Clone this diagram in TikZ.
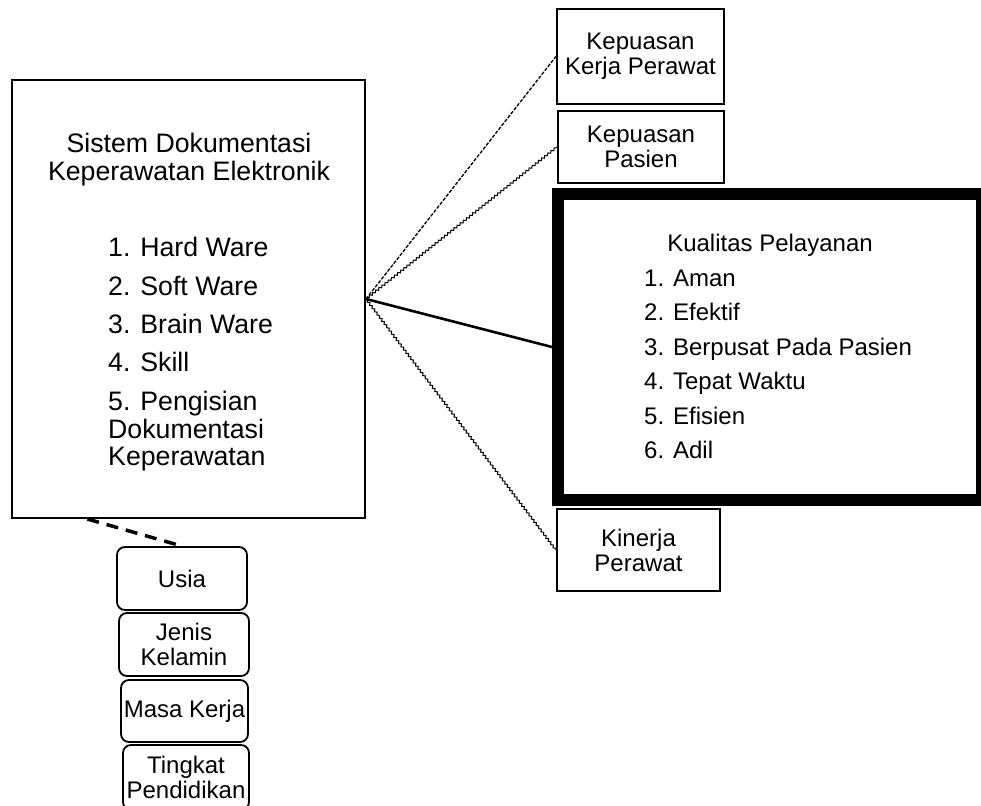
\documentclass[tikz,border=0pt]{standalone}
\usepackage{fontspec}
\setmainfont{Liberation Sans}
\usetikzlibrary{calc,decorations.pathmorphing}

\begin{document}
\begin{tikzpicture}[x=1pt,y=-1pt,
  box/.style={draw, line width=2pt, inner sep=0pt, align=center, font=\fontsize{24}{25}\selectfont},
  rbox/.style={box, rounded corners=8pt, line width=1.8pt},
  txt/.style={inner sep=0pt, font=\fontsize{24}{25}\selectfont},
  bigtxt/.style={inner sep=0pt, font=\fontsize{26.7}{28}\selectfont},
  wavy/.style={line width=1pt, decorate, decoration={snake, amplitude=1pt, segment length=4pt}},
  dotline/.style={line width=1.3pt, dash pattern=on 3.5pt off 1.5pt},
  solidline/.style={line width=2.6pt},
  thickdash/.style={line width=3.5pt, dash pattern=on 12pt off 8pt}
]
\useasboundingbox (0,0) rectangle (981,805);
\clip (0,0) rectangle (981,805);

% main box
\node[box, minimum width=353pt, minimum height=438pt] (sdke) at (188.5,299) {};
\node[bigtxt, anchor=base] (t1) at (189,152.7) {Sistem Dokumentasi};
\node[bigtxt, anchor=base] (t2) at (189,180.5) {Keperawatan Elektronik};
\node[bigtxt, anchor=base west] (i1) at (108,256.7) {1. Hard Ware};
\node[bigtxt, anchor=base west] (i2) at (108,295) {2. Soft Ware};
\node[bigtxt, anchor=base west] (i3) at (108,333.3) {3. Brain Ware};
\node[bigtxt, anchor=base west] (i4) at (108,371) {4. Skill};
\node[bigtxt, anchor=base west] (i5) at (108,410) {5. Pengisian};
\node[bigtxt, anchor=base west] (i5b) at (108,438) {Dokumentasi};
\node[bigtxt, anchor=base west] (i5c) at (108,465) {Keperawatan};

% quality box
\node[draw, line width=12pt, inner sep=0pt, minimum width=424pt, minimum height=306pt] (kual) at (770,347) {};
\node[txt, anchor=base] (kt) at (770,251.5) {Kualitas Pelayanan};
\node[txt, anchor=base west] (k1) at (644,286.7) {1. Aman};
\node[txt, anchor=base west] (k2) at (644,320.5) {2. Efektif};
\node[txt, anchor=base west] (k3) at (644,355) {3. Berpusat Pada Pasien};
\node[txt, anchor=base west] (k4) at (644,389.5) {4. Tepat Waktu};
\node[txt, anchor=base west] (k5) at (644,424) {5. Efisien};
\node[txt, anchor=base west] (k6) at (644,458.3) {6. Adil};

% right boxes
\node[box, line width=2.2pt, minimum width=167pt, minimum height=95pt] (kkp) at (640.5,56.5) {Kepuasan\\Kerja Perawat};
\node[box, line width=2.2pt, minimum width=166pt, minimum height=72pt] (kp) at (641,147) {Kepuasan\\Pasien};
\node[box, line width=2.2pt, minimum width=163pt, minimum height=82pt] (kin) at (638.5,550) {Kinerja\\Perawat};

% bottom boxes
\node[rbox, minimum width=130pt, minimum height=63pt] (usia) at (182,578.5) {Usia};
\node[rbox, minimum width=130pt, minimum height=63pt] (jk) at (184,644.5) {Jenis\\Kelamin};
\node[rbox, minimum width=127pt, minimum height=62pt] (mk) at (184.5,711) {Masa Kerja};
\node[rbox, minimum width=126pt, minimum height=65pt] (tp) at (186,777.5) {Tingkat\\Pendidikan};

% connectors
\draw[dotline] (sdke.east) -- (kkp.west);
\draw[wavy] (sdke.east) -- (kp.west);
\draw[solidline] (sdke.east) -- (kual.west);
\draw[wavy] (sdke.east) -- (kin.west);
\coordinate (dstart) at ($(sdke.south west)!0.215!(sdke.south east)$);
\draw[thickdash] (dstart) -- (usia.north);
\end{tikzpicture}
\end{document}
